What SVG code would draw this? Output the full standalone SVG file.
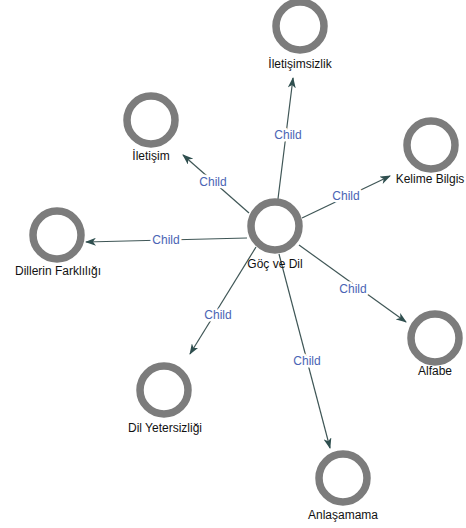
<svg xmlns="http://www.w3.org/2000/svg" width="466" height="528" viewBox="0 0 466 528">
<defs>
<marker id="arr" markerWidth="11" markerHeight="8" refX="10" refY="4" orient="auto" markerUnits="userSpaceOnUse">
<path d="M0,0 L11,4 L0,8 L3,4 Z" fill="#2f4f4f"/>
</marker>
<filter id="soft" x="-20%" y="-20%" width="140%" height="140%"><feGaussianBlur stdDeviation="0.6"/></filter>
</defs>
<style>
.ring{fill:#fff;stroke:#7b7b7b;stroke-width:7.5;filter:url(#soft)}
.lbl{font-family:"Liberation Sans",Arial,sans-serif;font-size:12px;fill:#111;text-anchor:middle}
.edge{stroke:#3f5656;stroke-width:1.2;fill:none;marker-end:url(#arr)}
.el{font-family:"Liberation Sans",Arial,sans-serif;font-size:12px;fill:#4a64b4;text-anchor:middle;stroke:#fff;stroke-width:5;paint-order:stroke;stroke-linejoin:round}
</style>
<rect width="466" height="528" fill="#fff"/>
<g id="connectors">
<line class="edge" x1="278" y1="199" x2="293" y2="78"/>
<line class="edge" x1="249" y1="213" x2="183" y2="155"/>
<line class="edge" x1="302" y1="218" x2="390" y2="176"/>
<line class="edge" x1="247" y1="238" x2="86" y2="242"/>
<line class="edge" x1="299" y1="245" x2="406" y2="322"/>
<line class="edge" x1="256" y1="247" x2="190" y2="354"/>
<line class="edge" x1="279" y1="254" x2="330" y2="448"/>
<text class="el" x="288" y="139">Child</text>
<text class="el" x="213" y="186">Child</text>
<text class="el" x="346" y="200">Child</text>
<text class="el" x="166" y="244">Child</text>
<text class="el" x="353" y="293">Child</text>
<text class="el" x="218" y="319">Child</text>
<text class="el" x="307" y="365">Child</text>
</g>
<g id="n-center"><circle class="ring" cx="275" cy="226" r="24"/><text class="lbl" x="275" y="268">Göç ve Dil</text></g>
<g id="n-iletisimsizlik"><circle class="ring" cx="300" cy="26" r="24"/><text class="lbl" x="300" y="68">İletişimsizlik</text></g>
<g id="n-iletisim"><circle class="ring" cx="151" cy="120" r="24"/><text class="lbl" x="151" y="160">İletişim</text></g>
<g id="n-kelime"><circle class="ring" cx="431" cy="145" r="24"/><text class="lbl" x="430" y="183">Kelime Bilgis</text></g>
<g id="n-dillerin"><circle class="ring" cx="57" cy="235" r="24"/><text class="lbl" x="58" y="275">Dillerin Farklılığı</text></g>
<g id="n-alfabe"><circle class="ring" cx="435" cy="338" r="24"/><text class="lbl" x="435" y="375">Alfabe</text></g>
<g id="n-dilyeter"><circle class="ring" cx="164" cy="390" r="24"/><text class="lbl" x="165" y="432">Dil Yetersizliği</text></g>
<g id="n-anlasamama"><circle class="ring" cx="343" cy="478" r="24"/><text class="lbl" x="343" y="519">Anlaşamama</text></g>
</svg>
